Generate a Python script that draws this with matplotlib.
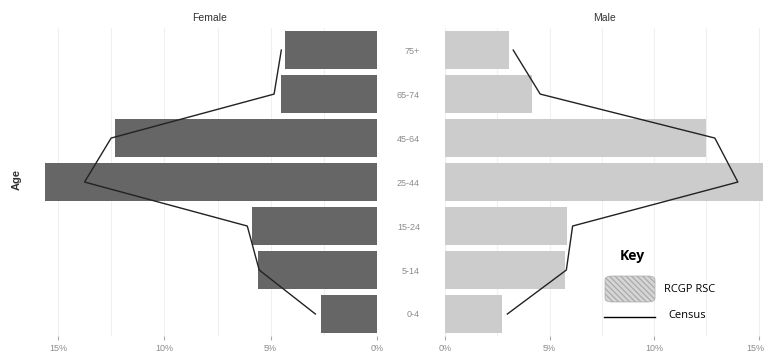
import matplotlib
matplotlib.use("Agg")
import matplotlib.pyplot as plt
import matplotlib.transforms as mtransforms
from matplotlib.patches import FancyBboxPatch
from matplotlib.lines import Line2D

plt.rcParams['font.family'] = ['Liberation Sans', 'DejaVu Sans']
plt.rcParams['hatch.color'] = '#707070'
plt.rcParams['hatch.linewidth'] = 0.9

# data (percent of population)
ages = ["0-4", "5-14", "15-24", "25-44", "45-64", "65-74", "75+"]
female_rsc = [2.63, 5.58, 5.87, 15.6, 12.3, 4.5, 4.32]
male_rsc = [2.7, 5.75, 5.85, 15.2, 12.5, 4.16, 3.06]
female_census = [2.9, 5.54, 6.1, 13.75, 12.5, 4.84, 4.5]
male_census = [2.98, 5.8, 6.1, 14.0, 12.9, 4.55, 3.26]
ticks = [0, 5, 10, 15]
tick_labels = ["0%", "5%", "10%", "15%"]

fig = plt.figure(figsize=(7.64, 3.58), dpi=100)
ax_f = fig.add_axes([0.055, 0.0615, 0.4385, 0.860])
ax_m = fig.add_axes([0.5825, 0.0615, 0.4175, 0.860])

y = list(range(len(ages)))

ax_f.barh(y, female_rsc, height=0.88, color="#666666", zorder=2)
ax_f.plot(female_census, y, color="#222222", lw=1, zorder=3)
ax_f.set_xlim(15.75, 0)

ax_m.barh(y, male_rsc, height=0.88, color="#cccccc", zorder=2)
ax_m.plot(male_census, y, color="#222222", lw=1, zorder=3)
ax_m.set_xlim(0, 15.25)

for ax, title in [(ax_f, "Female"), (ax_m, "Male")]:
    ax.set_ylim(-0.5, 6.5)
    for s in ax.spines.values():
        s.set_visible(False)
    ax.set_xticks(ticks)
    ax.set_xticklabels(tick_labels)
    ax.set_xticks([2.5, 7.5, 12.5], minor=True)
    ax.grid(axis="x", which="both", color="#f0f0f0", lw=0.8, zorder=0)
    ax.tick_params(axis="x", which="major", length=3, color="#aaaaaa",
                   labelsize=6.5, labelcolor="#8c8c8c", pad=3)
    ax.tick_params(axis="x", which="minor", length=0)
    ax.set_title(title, fontsize=7.5, color="#333333", pad=5)

# keep the last label on the right inside the picture
last = ax_m.get_xticklabels()[-1]
last.set_transform(last.get_transform() +
                   mtransforms.ScaledTranslation(-3 / 100, 0, fig.dpi_scale_trans))

ax_f.set_yticks([])
ax_m.set_yticks(y)
ax_m.set_yticklabels(ages)
ax_m.tick_params(axis="y", length=0, labelsize=6.5, labelcolor="#8c8c8c", pad=18)

fig.text(17 / 764, 1 - 180 / 358, "Age", rotation=90, ha="center", va="center",
         fontsize=8, color="#333333", fontweight="bold")

# key
fig.text(632 / 764, 1 - 256 / 358, "Key", ha="center", va="center",
         fontsize=10, fontweight="bold", family=["Open Sans", "DejaVu Sans"])
patch = FancyBboxPatch((605 / 764, 1 - 302 / 358), 50 / 764, 26 / 358,
                       boxstyle="round,pad=0,rounding_size=0.01",
                       transform=fig.transFigure, facecolor="#d6d6d6",
                       edgecolor="#aaaaaa", hatch="\\\\\\\\\\\\", lw=0.5)
fig.patches.append(patch)
fig.text(664 / 764, 1 - 290 / 358, "RCGP RSC", ha="left", va="center",
         fontsize=8, family=["Open Sans", "DejaVu Sans"])
fig.lines.append(Line2D([604 / 764, 655 / 764], [1 - 317 / 358, 1 - 317 / 358],
                        transform=fig.transFigure, color="black", lw=1))
fig.text(668 / 764, 1 - 315 / 358, "Census", ha="left", va="center",
         fontsize=8, family=["Open Sans", "DejaVu Sans"])

plt.savefig("out.png", dpi=100)
